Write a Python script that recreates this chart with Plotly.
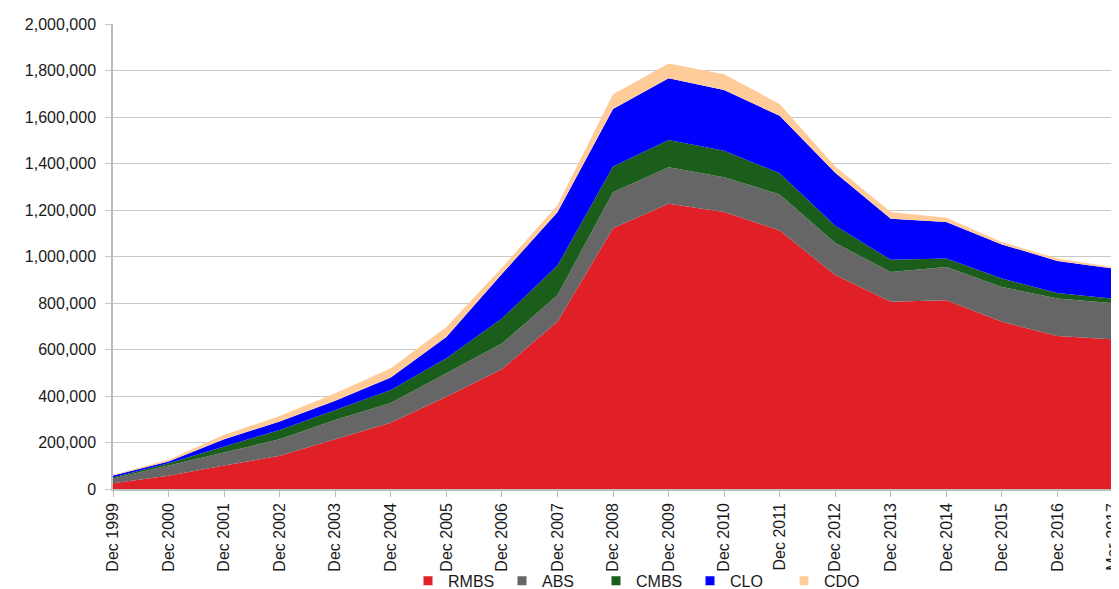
import plotly.graph_objects as go

categories = ["Dec 1999", "Dec 2000", "Dec 2001", "Dec 2002", "Dec 2003", "Dec 2004",
              "Dec 2005", "Dec 2006", "Dec 2007", "Dec 2008", "Dec 2009", "Dec 2010",
              "Dec 2011", "Dec 2012", "Dec 2013", "Dec 2014", "Dec 2015", "Dec 2016",
              "Mar 2017"]

rmbs = [25000, 57000, 101000, 143000, 214000, 285000, 397000, 515000, 719000, 1122000,
        1227000, 1191000, 1112000, 920000, 805000, 812000, 719000, 658000, 643000]
abs_ = [20000, 43000, 56000, 71000, 83000, 85000, 100000, 111000, 114000, 154000,
        157000, 150000, 155000, 138000, 128000, 143000, 150000, 161000, 156000]
cmbs = [4000, 11000, 26000, 40000, 43000, 56000, 65000, 107000, 128000, 111000,
        117000, 114000, 91000, 74000, 53000, 36000, 36000, 24000, 20000]
clo = [9000, 7000, 31000, 36000, 40000, 54000, 92000, 192000, 229000, 247000,
       266000, 261000, 247000, 228000, 176000, 157000, 147000, 138000, 129000]
cdo = [3000, 8000, 19000, 24000, 32000, 39000, 43000, 27000, 30000, 64000,
       63000, 68000, 51000, 27000, 29000, 19000, 10000, 10000, 7000]

series_names = ["RMBS", "ABS", "CMBS", "CLO", "CDO"]
series_values = [rmbs, abs_, cmbs, clo, cdo]
colors = ["#E01F26", "#666666", "#1B5E1B", "#0000FF", "#FFCC99"]

y_ticks = list(range(0, 2000001, 200000))

fig = go.Figure()
for name, vals, col in zip(series_names, series_values, colors):
    fig.add_trace(go.Scatter(
        x=categories, y=vals, name=name, mode="lines",
        stackgroup="one", line=dict(width=0, color=col), fillcolor=col,
        showlegend=False, hoverinfo="x+y+name"))

# legend entries as small squares
for name, col in zip(series_names, colors):
    fig.add_trace(go.Scatter(
        x=[None], y=[None], name=name, mode="markers",
        marker=dict(symbol="square", size=9, color=col), showlegend=True))

fig.update_layout(
    width=1111, height=581,
    margin=dict(l=105, r=6, t=16, b=100, autoexpand=False),
    paper_bgcolor="white", plot_bgcolor="white",
    font=dict(family="Liberation Sans, Arial, sans-serif", size=16, color="#1a1a1a"),
    legend=dict(orientation="h", x=0.53, xanchor="center", y=-0.1975, yanchor="middle",
                font=dict(size=16), itemwidth=30, traceorder="normal",
                bgcolor="rgba(0,0,0,0)", entrywidth=49),
    xaxis=dict(type="category", categoryorder="array", categoryarray=categories,
               range=[0, len(categories) - 1], tickangle=-90, showgrid=False,
               ticks="outside", ticklen=6, tickcolor="#bdbdbd",
               showline=True, linecolor="#bdbdbd", linewidth=1.5,
               tickfont=dict(size=16), automargin=False),
    yaxis=dict(range=[0, 2000000], tickvals=y_ticks, tickformat=",",
               showgrid=True, gridcolor="#c8c8c8", gridwidth=1.2,
               ticks="outside", ticklen=6, tickcolor="#c8c8c8",
               showline=True, linecolor="#bdbdbd", linewidth=1.5,
               tickfont=dict(size=16), zeroline=False, automargin=False,
               ticklabelstandoff=6),
)

fig.write_html("out.html")
